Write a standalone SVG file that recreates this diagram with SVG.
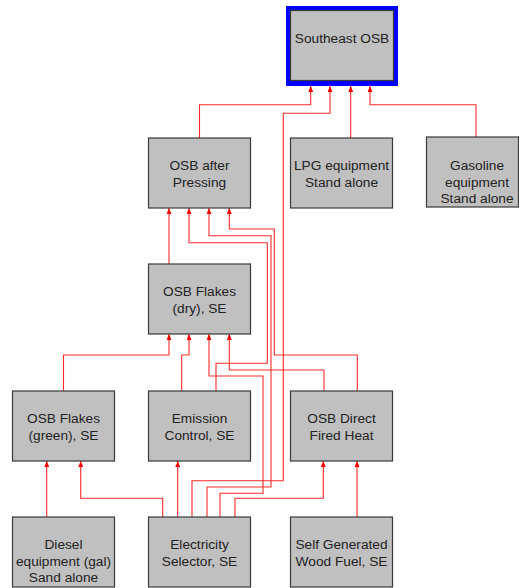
<svg xmlns="http://www.w3.org/2000/svg" width="519" height="588" viewBox="0 0 519 588">
<defs>
<style>
.box{fill:#c0c0c0;stroke:#3a3a3a;stroke-width:1.2}
.lbl{font-family:"Liberation Sans",Arial,sans-serif;font-size:13.7px;fill:#222;text-anchor:middle}
.c{fill:none;stroke:#ff2a2a;stroke-width:1.1;marker-end:url(#ah)}
</style>
<marker id="ah" viewBox="0 0 6 5" refX="6" refY="2.5" markerWidth="6" markerHeight="5" markerUnits="userSpaceOnUse" orient="auto">
<path d="M0,0 L6,2.5 L0,5 z" fill="#ff0000"/>
</marker>
</defs>
<rect x="0" y="0" width="519" height="588" fill="#ffffff"/>
<g id="connectors">
<polyline class="c" points="199.5,138 199.5,104.7 310.7,104.7 310.7,86"/>
<polyline class="c" points="192,517 192,480.7 283.3,480.7 283.3,113.3 330,113.3 330,86"/>
<polyline class="c" points="350.7,138 350.7,86"/>
<polyline class="c" points="476,137 476,104.7 370,104.7 370,86"/>
<polyline class="c" points="169,264 169,208"/>
<polyline class="c" points="216,391 216,363.3 267.3,363.3 267.3,242.7 189,242.7 189,208"/>
<polyline class="c" points="207,517 207,487 271,487 271,235.7 209,235.7 209,208"/>
<polyline class="c" points="357.3,391 357.3,355 274.3,355 274.3,229 229.3,229 229.3,208"/>
<polyline class="c" points="63.5,391 63.5,355 169,355 169,334"/>
<polyline class="c" points="181.7,391 181.7,355 189,355 189,334"/>
<polyline class="c" points="220,517 220,493.3 263,493.3 263,376 209,376 209,334"/>
<polyline class="c" points="324,391 324,370 229.3,370 229.3,334"/>
<polyline class="c" points="46.7,517 46.7,461"/>
<polyline class="c" points="162.7,517 162.7,498.3 80.7,498.3 80.7,461"/>
<polyline class="c" points="177.7,517 177.7,461"/>
<polyline class="c" points="235,517 235,498.3 323.3,498.3 323.3,461"/>
<polyline class="c" points="357,517 357,461"/>
</g>
<g id="southeast-osb">
<rect x="286" y="6" width="112" height="80" fill="#0000ff"/>
<rect class="box" x="290.5" y="10.5" width="103" height="70"/>
<text class="lbl" x="342" y="43">Southeast OSB</text>
</g>
<g id="osb-after-pressing">
<rect class="box" x="148.5" y="138" width="102" height="70"/>
<text class="lbl" x="199.5" y="170">OSB after</text>
<text class="lbl" x="199.5" y="186.7">Pressing</text>
</g>
<g id="lpg-equipment">
<rect class="box" x="290.5" y="138" width="102" height="70"/>
<text class="lbl" x="341.5" y="170">LPG equipment</text>
<text class="lbl" x="341.5" y="186.7">Stand alone</text>
</g>
<g id="gasoline-equipment">
<rect class="box" x="426.5" y="137" width="92" height="70"/>
<text class="lbl" x="477" y="170">Gasoline</text>
<text class="lbl" x="477" y="186.7">equipment</text>
<text class="lbl" x="477" y="203.4">Stand alone</text>
</g>
<g id="osb-flakes-dry">
<rect class="box" x="148.5" y="264" width="102" height="70"/>
<text class="lbl" x="199.5" y="296">OSB Flakes</text>
<text class="lbl" x="199.5" y="312.7">(dry), SE</text>
</g>
<g id="osb-flakes-green">
<rect class="box" x="12.5" y="391" width="102" height="70"/>
<text class="lbl" x="63.5" y="423">OSB Flakes</text>
<text class="lbl" x="63.5" y="439.7">(green), SE</text>
</g>
<g id="emission-control">
<rect class="box" x="148.5" y="391" width="102" height="70"/>
<text class="lbl" x="199.5" y="423">Emission</text>
<text class="lbl" x="199.5" y="439.7">Control, SE</text>
</g>
<g id="osb-direct-fired-heat">
<rect class="box" x="290.5" y="391" width="102" height="70"/>
<text class="lbl" x="341.5" y="423">OSB Direct</text>
<text class="lbl" x="341.5" y="439.7">Fired Heat</text>
</g>
<g id="diesel-equipment">
<rect class="box" x="12.5" y="517" width="102" height="70"/>
<text class="lbl" x="63.5" y="549">Diesel</text>
<text class="lbl" x="63.5" y="565.7">equipment (gal)</text>
<text class="lbl" x="63.5" y="582.4">Sand alone</text>
</g>
<g id="electricity-selector">
<rect class="box" x="148.5" y="517" width="102" height="70"/>
<text class="lbl" x="199.5" y="549">Electricity</text>
<text class="lbl" x="199.5" y="565.7">Selector, SE</text>
</g>
<g id="self-generated-wood-fuel">
<rect class="box" x="290.5" y="517" width="102" height="70"/>
<text class="lbl" x="341.5" y="549">Self Generated</text>
<text class="lbl" x="341.5" y="565.7">Wood Fuel, SE</text>
</g>
</svg>
